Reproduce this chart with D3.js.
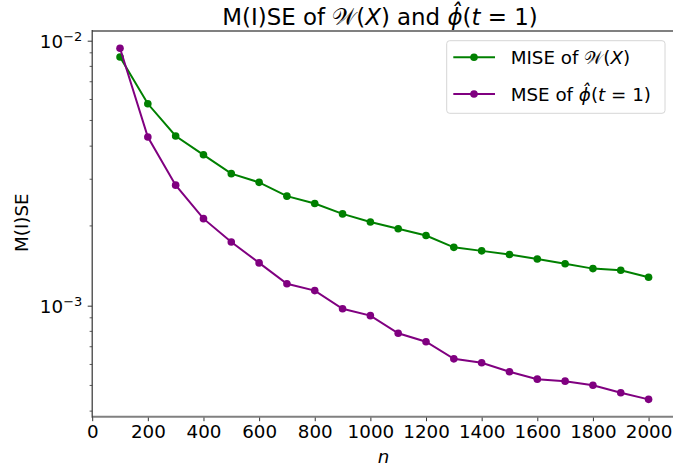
<!DOCTYPE html>
<html>
<head>
<meta charset="utf-8">
<script src="https://cdn.jsdelivr.net/npm/d3@7"></script>
<style>
  html, body { margin: 0; padding: 0; background: #fff; }
  svg { display: block; font-family: "DejaVu Sans", sans-serif; }
</style>
</head>
<body>
<svg id="chart" width="673" height="469"></svg>
<script>
// Sample sizes and errors for the two estimators
const sampleSizes = [100, 200, 300, 400, 500, 600, 700, 800, 900, 1000,
                     1100, 1200, 1300, 1400, 1500, 1600, 1700, 1800, 1900, 2000];
const miseW = [8.68e-3, 5.78e-3, 4.37e-3, 3.71e-3, 3.15e-3, 2.92e-3, 2.59e-3, 2.43e-3, 2.22e-3, 2.07e-3,
               1.95e-3, 1.84e-3, 1.66e-3, 1.61e-3, 1.56e-3, 1.50e-3, 1.44e-3, 1.38e-3, 1.36e-3, 1.28e-3];
const msePhi = [9.36e-3, 4.33e-3, 2.85e-3, 2.13e-3, 1.74e-3, 1.45e-3, 1.21e-3, 1.14e-3, 9.73e-4, 9.17e-4,
                7.87e-4, 7.31e-4, 6.30e-4, 6.09e-4, 5.63e-4, 5.28e-4, 5.19e-4, 5.01e-4, 4.69e-4, 4.43e-4];

const xTickValues = [0, 200, 400, 600, 800, 1000, 1200, 1400, 1600, 1800, 2000];
const yMajorTicks = [1e-3, 1e-2];
const yMajorExponents = ["\u22123", "\u22122"];
const yMinorTicks = [4e-4, 5e-4, 6e-4, 7e-4, 8e-4, 9e-4, 2e-3, 3e-3, 4e-3, 5e-3, 6e-3, 7e-3, 8e-3, 9e-3];

const svg = d3.select("#chart");
const plotLeft = 92.2, plotRight = 675, plotTop = 31, plotBottom = 416.7;

const x = d3.scaleLinear().domain([0, 2095]).range([plotLeft, plotRight]);
const y = d3.scaleLog().domain([Math.pow(10, -3.419), Math.pow(10, -1.9634)]).range([plotBottom, plotTop]);

// Axes
const tickColor = "#333";
const xAxis = svg.append("g")
  .attr("transform", `translate(0,${plotBottom})`)
  .call(d3.axisBottom(x).tickValues(xTickValues).tickFormat(d3.format("d"))
        .tickSize(4.5).tickPadding(4.3).tickSizeOuter(0));
xAxis.select(".domain").remove();
xAxis.selectAll(".tick line").attr("stroke", tickColor).attr("stroke-width", 1);
xAxis.selectAll(".tick text").attr("font-size", 18.3).attr("fill", "#000")
  .attr("font-family", "DejaVu Sans");

const yAxis = svg.append("g")
  .attr("transform", `translate(${plotLeft},0)`)
  .call(d3.axisLeft(y).tickValues(yMajorTicks).tickFormat("").tickSize(4.5).tickSizeOuter(0));
yAxis.select(".domain").remove();
yAxis.selectAll(".tick line").attr("stroke", tickColor).attr("stroke-width", 1);

svg.append("g").selectAll("line").data(yMinorTicks).join("line")
  .attr("x1", plotLeft - 2.6).attr("x2", plotLeft)
  .attr("y1", d => y(d)).attr("y2", d => y(d))
  .attr("stroke", tickColor).attr("stroke-width", 0.8);

// Power-of-ten tick labels
const yLabels = svg.append("g").selectAll("text").data(yMajorTicks).join("text")
  .attr("x", 82.3).attr("y", d => y(d) + 7.6)
  .attr("text-anchor", "end").attr("font-size", 18.3).attr("fill", "#000");
yLabels.append("tspan").text("10");
yLabels.append("tspan").attr("font-size", 13).attr("dy", -7).text((d, i) => yMajorExponents[i]);

// Spines
svg.append("line").attr("x1", plotLeft).attr("x2", plotRight).attr("y1", plotBottom).attr("y2", plotBottom)
  .attr("stroke", "#808080").attr("stroke-width", 2);
svg.append("line").attr("x1", plotLeft).attr("x2", plotRight).attr("y1", plotTop).attr("y2", plotTop)
  .attr("stroke", "#808080").attr("stroke-width", 2);
svg.append("line").attr("x1", plotLeft).attr("x2", plotLeft).attr("y1", plotTop - 1).attr("y2", plotBottom + 1)
  .attr("stroke", "#333").attr("stroke-width", 1.2);

// Series
const series = [
  { values: miseW, color: "green" },
  { values: msePhi, color: "purple" }
];
const line = d3.line().x(d => x(d[0])).y(d => y(d[1]));
series.forEach(s => {
  const pts = sampleSizes.map((n, i) => [n, s.values[i]]);
  svg.append("path").datum(pts).attr("d", line)
    .attr("fill", "none").attr("stroke", s.color).attr("stroke-width", 2);
  svg.append("g").selectAll("circle").data(pts).join("circle")
    .attr("cx", d => x(d[0])).attr("cy", d => y(d[1])).attr("r", 3.8)
    .attr("fill", s.color);
});

// Math-styled label pieces
function mathLabel(sel, parts) {
  parts.forEach(p => {
    const t = sel.append("tspan").text(p.t);
    if (p.italic) t.attr("font-style", "italic");
    if (p.family) t.attr("font-family", p.family);
  });
}
const wParts = [{ t: "\uD835\uDCB2" }, { t: "(" }, { t: "X", italic: true }, { t: ")" }];
const phiParts = [{ t: "\u03D5\u0302", italic: true }, { t: "(" }, { t: "t", italic: true },
                  { t: " = " }, { t: "1" }, { t: ")" }];

// Title
const title = svg.append("text").attr("x", 380).attr("y", 24.5)
  .attr("text-anchor", "middle").attr("font-size", 22.9).attr("fill", "#000");
mathLabel(title, [{ t: "M(I)SE of " }, ...wParts, { t: " and " }, ...phiParts]);

// Axis titles
svg.append("text").attr("x", 383.6).attr("y", 463.3).attr("text-anchor", "middle")
  .attr("font-size", 18.3).attr("font-style", "italic").text("n");
svg.append("text").attr("transform", "translate(27.5,222.7) rotate(-90)")
  .attr("text-anchor", "middle").attr("font-size", 18.3).text("M(I)SE");

// Legend
const legend = svg.append("g");
legend.append("rect").attr("x", 446.7).attr("y", 40.7).attr("width", 218.3).attr("height", 72.6)
  .attr("rx", 3).attr("fill", "#fff").attr("fill-opacity", 0.8)
  .attr("stroke", "#d6d6d6").attr("stroke-width", 1);
const legendRows = [
  { color: "green", prefix: "MISE of ", parts: wParts, cy: 57.3 },
  { color: "purple", prefix: "MSE of ", parts: phiParts, cy: 94 }
];
legendRows.forEach(r => {
  legend.append("line").attr("x1", 453.3).attr("x2", 495).attr("y1", r.cy).attr("y2", r.cy)
    .attr("stroke", r.color).attr("stroke-width", 2);
  legend.append("circle").attr("cx", 474).attr("cy", r.cy).attr("r", 3.8).attr("fill", r.color);
  const t = legend.append("text").attr("x", 510.7).attr("y", r.cy + 6.7)
    .attr("font-size", 18.3).attr("fill", "#000");
  mathLabel(t, [{ t: r.prefix }, ...r.parts]);
});
</script>
</body>
</html>
